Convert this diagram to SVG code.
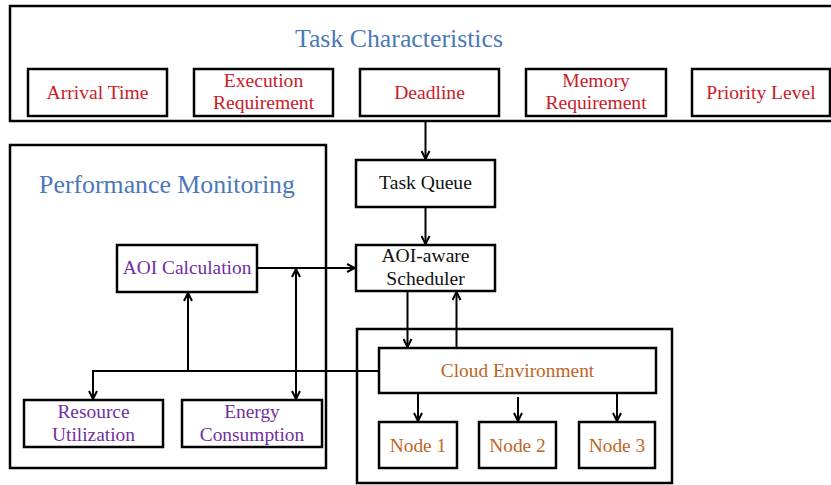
<svg xmlns="http://www.w3.org/2000/svg" width="831" height="485" viewBox="0 0 831 485">
  <defs>
    <style>
      .frame { fill: none; stroke: #000; stroke-width: 2.5; }
      .box { fill: #fff; stroke: #000; stroke-width: 2.5; }
      .wire { fill: none; stroke: #000; stroke-width: 2; }
      text { font-family: "Liberation Serif", "Times New Roman", serif; text-anchor: middle; }
      .head { font-size: 25.8px; fill: #4a78b8; }
      .trait { font-size: 19.6px; fill: #c8202a; }
      .core { font-size: 19.6px; fill: #111; }
      .metric { font-size: 19.4px; fill: #7030a0; }
      .cloud { font-size: 19.4px; fill: #c0651f; }
    </style>
    <marker id="arrow" viewBox="0 0 10 10" refX="9" refY="5" markerWidth="10" markerHeight="10" markerUnits="userSpaceOnUse" orient="auto-start-reverse">
      <path d="M1,1 L9,5 L1,9" fill="none" stroke="#000" stroke-width="2"/>
    </marker>
  </defs>

  <rect width="831" height="485" fill="#fff"/>

  <!-- Task characteristics panel -->
  <g id="task-characteristics">
    <rect class="frame" x="10" y="6" width="830" height="115"/>
    <text class="head" x="399" y="47">Task Characteristics</text>
  </g>
  <g id="arrival-time">
    <rect class="box" x="28" y="69" width="139" height="47"/>
    <text class="trait" x="97.5" y="99">Arrival Time</text>
  </g>
  <g id="execution-requirement">
    <rect class="box" x="194" y="69" width="139" height="47"/>
    <text class="trait" x="263.5" y="87">Execution</text>
    <text class="trait" x="263.5" y="109">Requirement</text>
  </g>
  <g id="deadline">
    <rect class="box" x="360" y="69" width="139" height="47"/>
    <text class="trait" x="429.5" y="99">Deadline</text>
  </g>
  <g id="memory-requirement">
    <rect class="box" x="526" y="69" width="140" height="47"/>
    <text class="trait" x="596" y="87">Memory</text>
    <text class="trait" x="596" y="109">Requirement</text>
  </g>
  <g id="priority-level">
    <rect class="box" x="692" y="69" width="138" height="47"/>
    <text class="trait" x="761" y="99">Priority Level</text>
  </g>

  <!-- Performance monitoring panel -->
  <g id="performance-monitoring">
    <rect class="frame" x="10" y="145" width="316" height="323"/>
    <text class="head" x="167" y="193">Performance Monitoring</text>
  </g>
  <g id="aoi-calculation">
    <rect class="box" x="117" y="245" width="140" height="47"/>
    <text class="metric" x="187" y="274">AOI Calculation</text>
  </g>
  <g id="resource-utilization">
    <rect class="box" x="24" y="400" width="139" height="47"/>
    <text class="metric" x="93.5" y="418">Resource</text>
    <text class="metric" x="93.5" y="441">Utilization</text>
  </g>
  <g id="energy-consumption">
    <rect class="box" x="182" y="400" width="140" height="47"/>
    <text class="metric" x="252" y="418">Energy</text>
    <text class="metric" x="252" y="441">Consumption</text>
  </g>

  <!-- Scheduling path -->
  <g id="task-queue">
    <rect class="box" x="356" y="160" width="139" height="47"/>
    <text class="core" x="425.5" y="189">Task Queue</text>
  </g>
  <g id="aoi-aware-scheduler">
    <rect class="box" x="356" y="245" width="139" height="46"/>
    <text class="core" x="425.5" y="262">AOI-aware</text>
    <text class="core" x="425.5" y="285">Scheduler</text>
  </g>

  <!-- Cloud environment panel -->
  <g id="cloud-panel">
    <rect class="frame" x="357" y="329" width="315" height="154"/>
  </g>
  <g id="cloud-environment">
    <rect class="box" x="379" y="348" width="277" height="45"/>
    <text class="cloud" x="517.5" y="377">Cloud Environment</text>
  </g>
  <g id="node-1">
    <rect class="box" x="379" y="422" width="78" height="46"/>
    <text class="cloud" x="418" y="452">Node 1</text>
  </g>
  <g id="node-2">
    <rect class="box" x="479" y="422" width="77" height="46"/>
    <text class="cloud" x="517.5" y="452">Node 2</text>
  </g>
  <g id="node-3">
    <rect class="box" x="579" y="422" width="76" height="46"/>
    <text class="cloud" x="617" y="452">Node 3</text>
  </g>

  <!-- Connectors -->
  <g id="connectors">
    <line class="wire" x1="425.5" y1="121" x2="425.5" y2="159" marker-end="url(#arrow)"/>
    <line class="wire" x1="425.5" y1="207" x2="425.5" y2="244" marker-end="url(#arrow)"/>
    <line class="wire" x1="257" y1="268" x2="355" y2="268" marker-end="url(#arrow)"/>
    <line class="wire" x1="296" y1="269" x2="296" y2="399" marker-start="url(#arrow)" marker-end="url(#arrow)"/>
    <polyline class="wire" points="379,371 93,371 93,399" marker-end="url(#arrow)"/>
    <line class="wire" x1="188" y1="371" x2="188" y2="293" marker-end="url(#arrow)"/>
    <line class="wire" x1="407.5" y1="291" x2="407.5" y2="347" marker-end="url(#arrow)"/>
    <line class="wire" x1="456.5" y1="348" x2="456.5" y2="292" marker-end="url(#arrow)"/>
    <line class="wire" x1="418" y1="393" x2="418" y2="421" marker-end="url(#arrow)"/>
    <line class="wire" x1="518" y1="397" x2="518" y2="421" marker-end="url(#arrow)"/>
    <line class="wire" x1="617" y1="393" x2="617" y2="421" marker-end="url(#arrow)"/>
  </g>
</svg>
